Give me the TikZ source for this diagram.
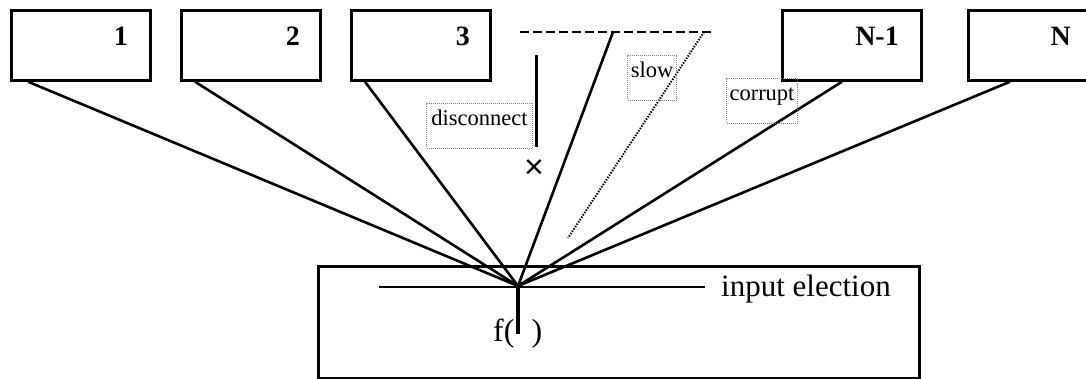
\documentclass[tikz,border=0pt]{standalone}
\usepackage{fontspec}
\setmainfont{Liberation Serif}
\newfontfamily\sansx{Liberation Sans}
\usetikzlibrary{calc}
\begin{document}
\begin{tikzpicture}[x=1pt,y=-1pt,
  proc/.style={draw, line width=2.7pt, minimum width=139pt, minimum height=70pt, inner sep=0pt, anchor=north west},
  num/.style={font=\fontsize{28}{28}\selectfont\bfseries, anchor=base east, inner sep=0pt},
  link/.style={line width=2.6pt},
  tag/.style={draw=gray, densely dotted, line width=1pt, font=\fontsize{22.5}{22.5}\selectfont, anchor=north west, inner xsep=0pt, inner ysep=0pt, text height=22pt, text depth=23pt},
  dashline/.style={line width=2.8pt, dash pattern=on 8.5pt off 4.5pt},
  dotline/.style={line width=2pt, dash pattern=on 1.4pt off 1.4pt}
]
\clip (0,0) rectangle (1086,379);
\fill[white] (0,0) rectangle (1086,379);

% participant boxes
\node[proc] (b1) at (10,9) {};
\node[proc] (b2) at (180,9) {};
\node[proc] (b3) at (350,9) {};
\node[proc] (bn1) at (781,9) {};
\node[proc] (bn) at (967,9) {};
\node[num] (l1) at ($(b1.north west)+(118,37)$) {1};
\node[num] (l2) at ($(b2.north west)+(120,37)$) {2};
\node[num] (l3) at ($(b3.north west)+(120,37)$) {3};
\node[num] (ln1) at ($(bn1.north west)+(118,37)$) {N-1};
\node[num] (ln) at ($(bn.north west)+(104,37)$) {N};

% input election box
\node[draw, line width=2.7pt, minimum width=601pt, minimum height=112pt, anchor=north west, inner sep=0pt] (inbox) at (317,265) {};
\coordinate (c) at (518,286);
\coordinate (il) at (379,287);
\coordinate (ir) at (705,287);
\draw[line width=2.6pt] (il) -- (ir);
\node[anchor=base west, inner sep=0pt, font=\fontsize{31}{31}\selectfont] (inlab) at (721,296) {input election};
\coordinate (fend) at (518,334);
\node[anchor=base west, inner sep=0pt, font=\fontsize{32}{32}\selectfont] (ftext) at (493,341) {f(\hspace{17pt})};
\draw[line width=4pt] (c) -- (fend);

% connectors
\draw[link] ($(b1.south west)+(18,0)$) -- (c);
\draw[link] ($(b2.south west)+(15,0)$) -- (c);
\draw[link] ($(b3.south west)+(15,0)$) -- (c);
\draw[link] ($(bn1.south west)+(61,0)$) -- (c);
\draw[link] ($(bn.south west)+(43,0)$) -- (c);

% missing participant (dashed)
\coordinate (dl) at (520,32);
\coordinate (dr) at (715,32);
\draw[dashline] (dl) -- (dr);
\coordinate (s3) at (613,32);
\draw[link] (s3) -- (c);
\coordinate (sl) at (704,32);
\coordinate (se) at (568,238);
\draw[dotline] (sl) -- (se);

% disconnect
\coordinate (v1) at (536,55);
\coordinate (v2) at (536,147);
\draw[line width=3pt] (v1) -- (v2);
\node[inner sep=0pt, font=\sansx\fontsize{34}{34}\selectfont] (x) at (534,169) {×};

% labels
\node[tag, minimum width=106pt] (tdis) at (426,103) {disconnect};
\node[tag, minimum width=49pt] (tslow) at (627,55) {slow};
\node[tag, minimum width=71pt] (tcor) at (726,78) {corrupt};
\end{tikzpicture}
\end{document}
